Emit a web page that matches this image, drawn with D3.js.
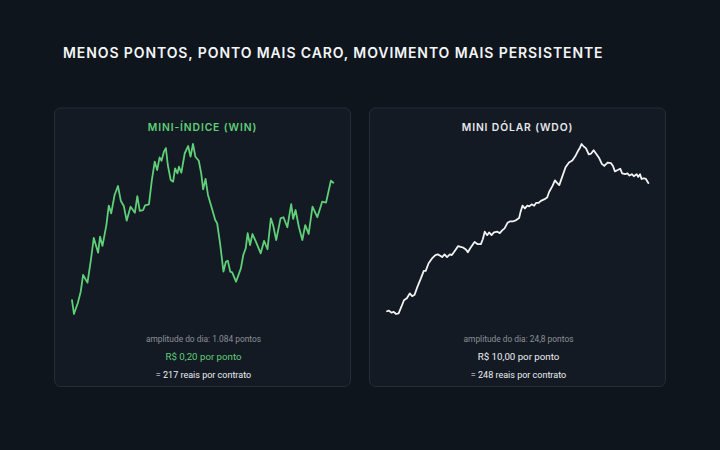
<!DOCTYPE html>
<html>
<head>
<meta charset="utf-8">
<script src="https://cdn.jsdelivr.net/npm/d3@7"></script>
<style>
  html, body { margin: 0; padding: 0; background: #0f151d; }
  #chart { width: 720px; height: 450px; }
  text { font-family: Inter, "Noto Sans", sans-serif; }
  .note { font-family: Roboto, "Noto Sans", sans-serif; }
</style>
</head>
<body>
<div id="chart"></div>
<script>
// Mini-índice vs mini dólar — um dia de pregão
const chartTitle = 'MENOS PONTOS, PONTO MAIS CARO, MOVIMENTO MAIS PERSISTENTE';

// WIN: minutos desde a abertura / cotação
const winMinutes = [0, 4, 12, 18, 23, 32, 39, 45, 54, 58, 63, 71, 76, 81, 88, 95, 101, 107, 113, 121,
  130, 135, 140, 147, 151, 159, 165, 171, 176, 181, 185, 190, 194, 198, 204, 209, 213, 218, 221, 226,
  233, 240, 245, 250, 255, 262, 267, 271, 276, 281, 289, 296, 300, 306, 313, 318, 322, 327, 331, 339,
  349, 354, 359, 363, 368, 373, 380, 390, 397, 404, 411, 416, 422, 431, 437, 445, 453, 457, 462, 469,
  476, 482, 489, 497, 507, 517, 525, 535, 540];
const winValues = [127569, 127480, 127550, 127622, 127729, 127680, 127824, 127965, 127871, 127973,
  127914, 128047, 128171, 128122, 128239, 128296, 128200, 128169, 128075, 128164,
  128126, 128232, 128137, 128143, 128173, 128179, 128334, 128451, 128398, 128479,
  128457, 128515, 128538, 128430, 128334, 128324, 128409, 128377, 128419, 128381,
  128505, 128551, 128483, 128564, 128483, 128457, 128377, 128275, 128341, 128239,
  128154, 128079, 128058, 127931, 127750, 127813, 127820, 127750, 127745, 127686,
  127771, 127856, 127899, 127995, 127920, 127990, 127941, 127867, 127947, 127893,
  128090, 128041, 127952, 128090, 128097, 128033, 128181, 128086, 128143, 128033,
  127952, 128047, 127990, 128164, 128097, 128196, 128190, 128330, 128317];

// WDO: minutos desde a abertura / cotação
const wdoMinutes = [0, 4, 9, 14, 19, 24, 30, 35, 41, 47, 52, 57, 63, 70, 76, 80, 86, 93, 100, 105,
  110, 114, 119, 124, 130, 134, 140, 147, 152, 157, 163, 167, 172, 178, 181, 187, 194, 198, 202, 207,
  211, 216, 221, 228, 233, 238, 243, 249, 254, 260, 267, 273, 276, 280, 285, 290, 294, 299, 304, 308,
  313, 318, 327, 331, 335, 342, 347, 352, 356, 362, 369, 376, 383, 389, 394, 399, 402, 407, 411, 417,
  422, 427, 433, 438, 444, 449, 456, 463, 467, 471, 477, 482, 486, 492, 497, 501, 506, 510, 516, 519,
  523, 526, 531, 535, 540];
const wdoValues = [5480.4, 5480.5, 5480.2, 5480.3, 5480.0, 5480.1, 5481.1, 5482.0, 5482.3, 5483.0,
  5482.6, 5482.8, 5484.0, 5485.2, 5486.3, 5486.3, 5487.4, 5488.1, 5488.6, 5488.7,
  5488.5, 5488.3, 5488.7, 5488.3, 5488.7, 5488.6, 5489.2, 5489.9, 5489.8, 5489.7,
  5489.4, 5489.0, 5489.6, 5490.2, 5490.5, 5490.2, 5490.2, 5490.9, 5492.0, 5491.5,
  5491.9, 5491.5, 5491.9, 5492.0, 5491.8, 5492.2, 5492.5, 5493.3, 5493.5, 5493.5,
  5493.7, 5494.0, 5494.9, 5495.8, 5495.4, 5495.8, 5495.7, 5496.0, 5495.8, 5496.2,
  5496.2, 5496.5, 5496.8, 5497.0, 5497.8, 5498.7, 5499.5, 5499.1, 5498.8, 5500.0,
  5501.4, 5502.1, 5502.4, 5503.0, 5503.7, 5504.3, 5504.8, 5504.4, 5504.2, 5503.3,
  5503.4, 5503.9, 5503.3, 5502.8, 5501.9, 5501.6, 5502.1, 5502.0, 5501.6, 5500.8,
  5501.0, 5501.2, 5500.5, 5500.4, 5500.5, 5500.2, 5500.4, 5500.1, 5500.4, 5500.0,
  5500.4, 5499.7, 5499.8, 5499.7, 5499.1];

const panelTitles = ['MINI-ÍNDICE (WIN)', 'MINI DÓLAR (WDO)'];
const amplitudeLabels = ['amplitude do dia: 1.084 pontos', 'amplitude do dia: 24,8 pontos'];
const pointValueLabels = ['R$ 0,20 por ponto', 'R$ 10,00 por ponto'];
const contractLabels = ['= 217 reais por contrato', '= 248 reais por contrato'];
const lineColors = ['#5fcf78', '#f2f2f2'];
const titleColors = ['#5fcf78', '#e6e8eb'];
const pointColors = ['#5fcf78', '#eceef1'];

const W = 720, H = 450;
const svg = d3.select('#chart').append('svg')
  .attr('width', W).attr('height', H)
  .attr('viewBox', `0 0 ${W} ${H}`);

svg.append('rect').attr('width', W).attr('height', H).attr('fill', '#0f151d');

svg.append('text')
  .attr('x', 63).attr('y', 57.5)
  .attr('fill', '#f4f5f7')
  .attr('font-size', 14)
  .attr('font-weight', 600)
  .attr('letter-spacing', 0.9)
  .text(chartTitle);

// Panels
const panelW = 297, panelH = 279.5;
const panelX = [54, 369], panelY = 107.5;

const panels = [
  { minutes: winMinutes, values: winValues },
  { minutes: wdoMinutes, values: wdoValues }
];

panels.forEach((p, i) => {
  const g = svg.append('g').attr('transform', `translate(${panelX[i]},${panelY})`);

  g.append('rect')
    .attr('x', 0.5).attr('y', 0.5)
    .attr('width', panelW - 1).attr('height', panelH - 1)
    .attr('rx', 6)
    .attr('fill', '#141a23')
    .attr('stroke', '#262d37')
    .attr('stroke-width', 1);

  g.append('text')
    .attr('x', panelW / 2).attr('y', 23.5)
    .attr('text-anchor', 'middle')
    .attr('fill', titleColors[i])
    .attr('font-size', 10.3)
    .attr('font-weight', 600)
    .attr('letter-spacing', 0.9)
    .text(panelTitles[i]);

  const x = d3.scaleLinear().domain([0, 540]).range([18, 279.3]);
  const y = d3.scaleLinear().domain(d3.extent(p.values)).range([206.5, 36.5]);

  const line = d3.line()
    .x(d => x(d[0]))
    .y(d => y(d[1]))
    .curve(d3.curveLinear);

  g.append('path')
    .datum(d3.zip(p.minutes, p.values))
    .attr('d', line)
    .attr('fill', 'none')
    .attr('stroke', lineColors[i])
    .attr('stroke-width', 1.8)
    .attr('stroke-linejoin', 'round')
    .attr('stroke-linecap', 'round');

  g.append('text')
    .attr('class', 'note')
    .attr('x', panelW / 2 + 1).attr('y', 234)
    .attr('text-anchor', 'middle')
    .attr('fill', '#8b9098')
    .attr('font-size', 8.4)
    .text(amplitudeLabels[i]);

  g.append('text')
    .attr('class', 'note')
    .attr('x', panelW / 2 + 1).attr('y', 252.5)
    .attr('text-anchor', 'middle')
    .attr('fill', pointColors[i])
    .attr('font-size', 9.7)
    .text(pointValueLabels[i]);

  g.append('text')
    .attr('class', 'note')
    .attr('x', panelW / 2 + 1).attr('y', 270)
    .attr('text-anchor', 'middle')
    .attr('fill', '#eceef1')
    .attr('font-size', 9)
    .text(contractLabels[i]);
});
</script>
</body>
</html>
